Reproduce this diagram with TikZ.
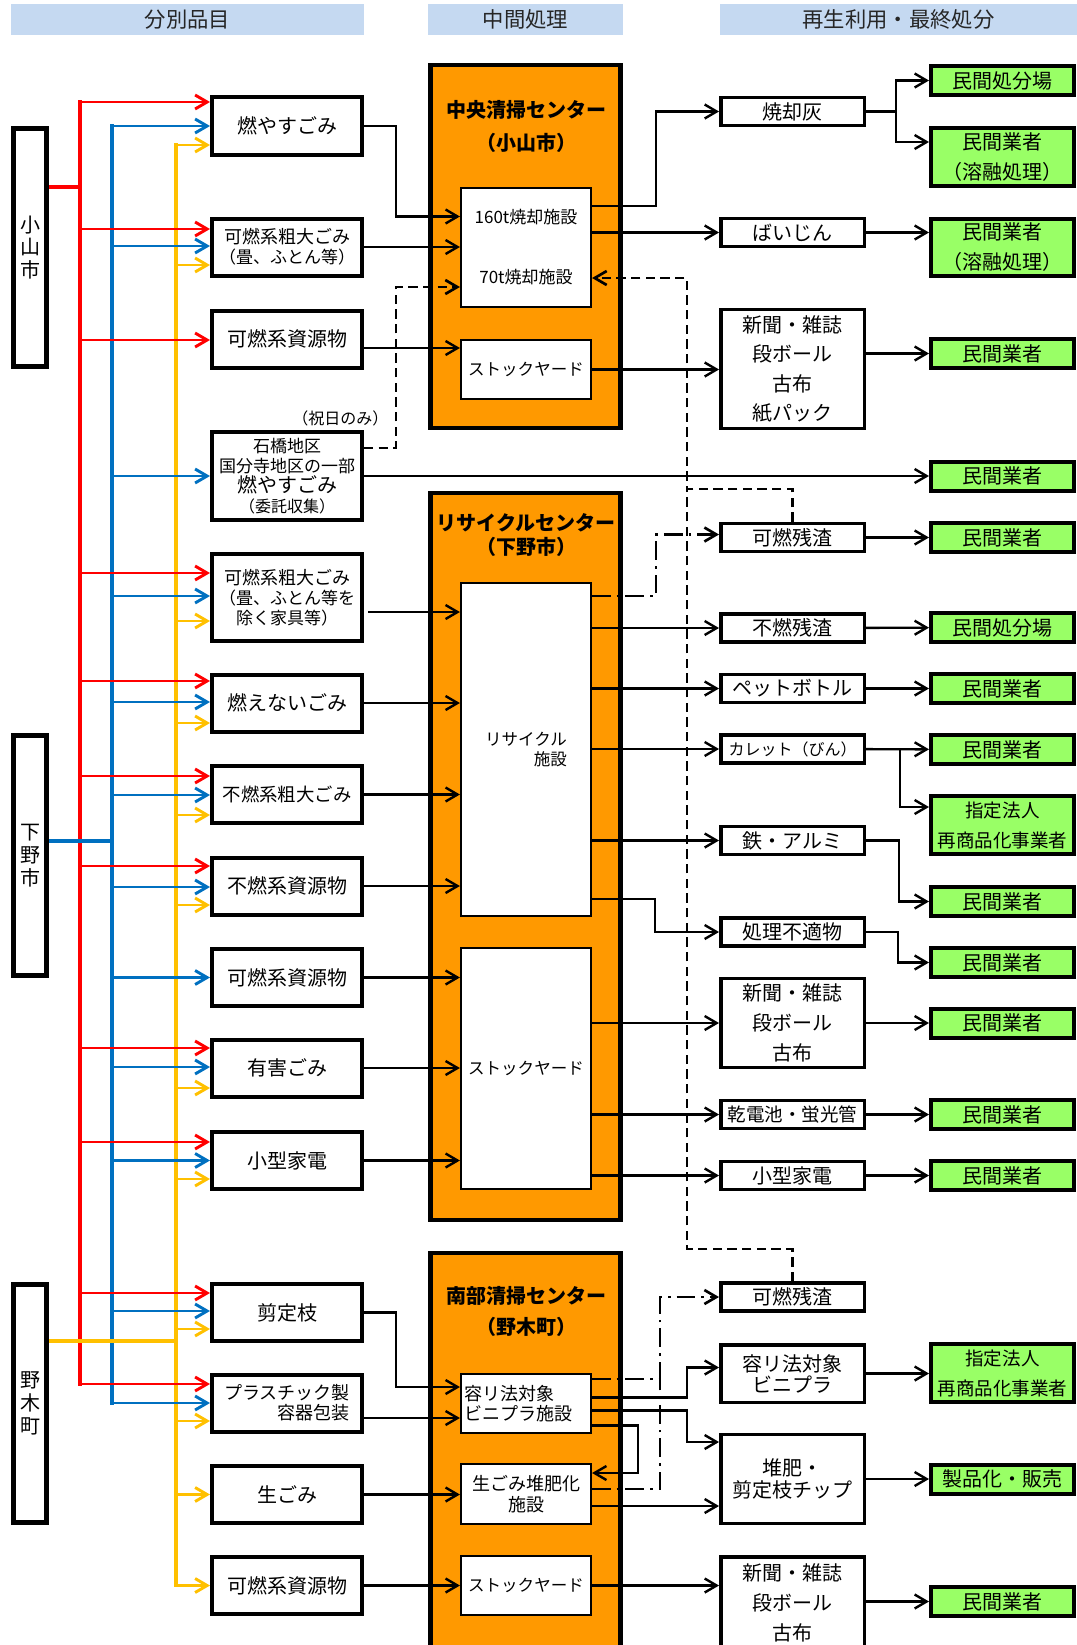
\documentclass[tikz,border=0pt]{standalone}
\usepackage{fontspec}
\setmainfont{Noto Sans CJK JP}
\usetikzlibrary{arrows.meta,calc}
\definecolor{hdrblue}{HTML}{C5D9F1}
\definecolor{plantorange}{HTML}{FF9900}
\definecolor{destgreen}{HTML}{99FF66}
\definecolor{busred}{HTML}{FF0000}
\definecolor{busblue}{HTML}{0070C0}
\definecolor{busyellow}{HTML}{FFC000}
\tikzset{
  hdr/.style     ={fill=hdrblue, minimum height=23.25pt, inner sep=0pt, text=black!85,
                   font=\fontsize{16pt}{18pt}\selectfont},
  city/.style    ={draw, line width=3.5pt, fill=white, minimum width=24.75pt,
                   minimum height=178.5pt, inner sep=0pt, align=center,
                   font=\fontsize{15pt}{17pt}\selectfont},
  item/.style    ={draw, line width=3pt, fill=white, minimum width=112.5pt,
                   minimum height=42.75pt, inner sep=0pt, align=center,
                   font=\fontsize{15pt}{18pt}\selectfont},
  plant/.style   ={draw, line width=3.2pt, fill=plantorange, minimum width=142.5pt, inner sep=0pt},
  ptitle/.style  ={align=center, font=\bfseries\fontsize{15pt}{24.75pt}\selectfont},
  facility/.style={draw, line width=1.6pt, fill=white, minimum width=97.5pt, inner sep=0pt,
                   align=center, font=\fontsize{12.4pt}{15pt}\selectfont},
  product/.style ={draw, line width=2.6pt, fill=white, minimum width=107.6pt,
                   minimum height=21pt, inner sep=0pt, align=center,
                   font=\fontsize{15pt}{22.5pt}\selectfont},
  dest/.style    ={draw, line width=3pt, fill=destgreen, minimum width=107.25pt,
                   minimum height=21.75pt, inner sep=0pt, align=center,
                   font=\fontsize{15pt}{22.5pt}\selectfont},
  tip/.style     ={-{Straight Barb[length=9pt,width=10.5pt]}},
  flow/.style    ={tip, line width=1.8pt},
  dashline/.style={line width=2pt, dash pattern=on 7pt off 4pt},
  dashflow/.style={dashline, tip},
  dotline/.style ={line width=2pt, dash pattern=on 14pt off 4.5pt on 2pt off 4.5pt},
  dotflow/.style ={dotline, tip},
  redline/.style ={busred, line width=2.4pt, line cap=rect},
  blueline/.style={busblue, line width=2.4pt, line cap=rect},
  yelline/.style ={busyellow, line width=2.4pt, line cap=rect},
  redfeed/.style ={busred, line width=2.2pt, tip},
  bluefeed/.style={busblue, line width=2.2pt, tip},
  yelfeed/.style ={busyellow, line width=2.2pt, tip},
}
% feed arrow from a colour bus into an item box
\newcommand{\feed}[3]{\draw[#1feed] let \p1=($(#2.west)+(0,#3)$), \p2=(#1bus) in (\x2,\y1) -- (\p1);}
% horizontal arrow from a point to the x of a node anchor
\newcommand{\hto}[3][flow]{\draw[#1] let \p1=(#2), \p2=(#3) in (\p1) -- (\x2,\y1);}

\begin{document}
\begin{tikzpicture}[x=0.75pt,y=-0.75pt]
  \useasboundingbox (0,0) rectangle (1077,1645);

  % column heads
  \node[hdr, minimum width=264.75pt](hsort) at (187.5,19.5){分別品目};
  \node[hdr, minimum width=146.25pt](hmid) at (525.5,19.5){中間処理};
  \node[hdr, minimum width=267.75pt](hend) at (898.5,19.5){再生利用・最終処分};

  % plants
  \node[plant, minimum height=272.25pt](chuo) at (525.5,246.5){};
  \node[plant, minimum height=545.25pt](recyc) at (525.5,856.5){};
  \node[plant, minimum height=330pt](nanbu) at (525.5,1473){};
  \node[ptitle](chuoT) at (526,126.5){中央清掃センター\\（小山市）};
  \node[ptitle, font=\bfseries\fontsize{15pt}{18pt}\selectfont](recycT) at (526,535){リサイクルセンター\\（下野市）};
  \node[ptitle, font=\bfseries\fontsize{15pt}{23.25pt}\selectfont](nanbuT) at (526,1311.5){南部清掃センター\\（野木町）};

  \node[facility, minimum height=89.25pt](inc) at (526,247.5){};
  \node[font=\fontsize{12.75pt}{15pt}\selectfont](t160) at (526,217){160t焼却施設};
  \node[font=\fontsize{12.75pt}{15pt}\selectfont](t70) at (526,277){70t焼却施設};
  \node[facility, minimum height=44.25pt](stock1) at (526,369.5){ストックヤード};
  \node[facility, minimum height=249.75pt, align=right](recfac) at (526,749.5){リサイクル\\施設};
  \node[facility, minimum height=180.75pt](stock2) at (526,1068.5){ストックヤード};
  \node[facility, minimum height=44.25pt, align=left, text width=92pt,
        font=\fontsize{13.5pt}{15pt}\selectfont](vinyl) at (526,1403.5){容リ法対象\\ビニプラ施設};
  \node[facility, minimum height=45pt, font=\fontsize{13.5pt}{15.75pt}\selectfont](compost) at (526,1494){生ごみ堆肥化\\施設};
  \node[facility, minimum height=44.25pt](stock3) at (526,1585.5){ストックヤード};

  % municipalities
  \node[city](oyama) at (30,247.5){小\\山\\市};
  \node[city, minimum height=180pt](shimo) at (30,855.5){下\\野\\市};
  \node[city](nogi) at (30,1403.5){野\\木\\町};

  % sorted items
  \node[item](moyasu) at (287,126){燃やすごみ};
  \node[item, font=\fontsize{13.5pt}{15pt}\selectfont](kanenS) at (287,247){可燃系粗大ごみ\\{\fontsize{12.75pt}{15pt}\selectfont（畳、ふとん等）}};
  \node[item](kanenR1) at (287,339){可燃系資源物};
  \node[item, minimum height=66pt, font=\fontsize{12.75pt}{15pt}\selectfont](ishibashi) at (287,476)
        {石橋地区\\国分寺地区の一部\\{\fontsize{15pt}{16.5pt}\selectfont 燃やすごみ}\\{\fontsize{12pt}{16.5pt}\selectfont（委託収集）}};
  \node[item, minimum height=65.25pt, font=\fontsize{13.5pt}{15pt}\selectfont](kanenS2) at (287,597.5)
        {可燃系粗大ごみ\\{\fontsize{12.75pt}{15pt}\selectfont（畳、ふとん等を}\\{\fontsize{12.75pt}{15pt}\selectfont 除く家具等）}};
  \node[item](moenai) at (287,703){燃えないごみ};
  \node[item, font=\fontsize{13.8pt}{15pt}\selectfont](funenS) at (287,794.5){不燃系粗大ごみ};
  \node[item](funenR) at (287,886){不燃系資源物};
  \node[item](kanenR2) at (287,977.5){可燃系資源物};
  \node[item](yugai) at (287,1068){有害ごみ};
  \node[item](kogata) at (287,1160.5){小型家電};
  \node[item](sentei) at (287,1312.5){剪定枝};
  \node[item, align=right, font=\fontsize{13.5pt}{15pt}\selectfont](plastic) at (287,1403){プラスチック製\\容器包装};
  \node[item](nama) at (287,1494.5){生ごみ};
  \node[item](kanenR3) at (287,1585.5){可燃系資源物};
  \node[font=\fontsize{12pt}{13pt}\selectfont, anchor=east](holiday) at (393,418){（祝日のみ）};

  % products
  \node[product](shokyaku) at (792.5,111.5){焼却灰};
  \node[product](baijin) at (792.5,232.5){ばいじん};
  \node[product, minimum height=88.9pt, font=\fontsize{15pt}{22pt}\selectfont](paper1) at (792.5,369){新聞・雑誌\\段ボール\\古布\\紙パック};
  \node[product](kanenZ1) at (792.5,537.5){可燃残渣};
  \node[product](funenZ) at (792.5,628){不燃残渣};
  \node[product](pet) at (792.5,688.5){ペットボトル};
  \node[product, font=\fontsize{12pt}{15pt}\selectfont](cullet) at (792.5,749){カレット（びん）};
  \node[product](tetsu) at (792.5,840.5){鉄・アルミ};
  \node[product](futeki) at (792.5,932){処理不適物};
  \node[product, minimum height=66.4pt](paper2) at (792.5,1023){新聞・雑誌\\段ボール\\古布};
  \node[product, font=\fontsize{13.9pt}{15pt}\selectfont](kanden) at (792.5,1114.5){乾電池・蛍光管};
  \node[product](kogata2) at (792.5,1175.5){小型家電};
  \node[product](kanenZ2) at (792.5,1297){可燃残渣};
  \node[product, minimum height=43.1pt, font=\fontsize{15pt}{15.75pt}\selectfont](yori) at (792.5,1373.5){容リ法対象\\ビニプラ};
  \node[product, minimum height=66.4pt, font=\fontsize{15pt}{16.5pt}\selectfont](taihi) at (792.5,1479){堆肥・\\剪定枝チップ};
  \node[product, minimum height=68.6pt](paper3) at (792.5,1602.5){新聞・雑誌\\段ボール\\古布};

  % final destinations
  \node[dest](ashDisp) at (1002.5,80.5){民間処分場};
  \node[dest, minimum height=43.1pt](ashMelt) at (1002.5,157){民間業者\\（溶融処理）};
  \node[dest, minimum height=43.1pt](dustMelt) at (1002.5,247.5){民間業者\\（溶融処理）};
  \node[dest](paperCo) at (1002.5,353.5){民間業者};
  \node[dest](ishiCo) at (1002.5,476){民間業者};
  \node[dest](kzCo) at (1002.5,537.5){民間業者};
  \node[dest](fzDisp) at (1002.5,627.5){民間処分場};
  \node[dest](petCo) at (1002.5,688.5){民間業者};
  \node[dest](culCo) at (1002.5,749.5){民間業者};
  \node[dest, minimum height=43.1pt, font=\fontsize{13.9pt}{22.5pt}\selectfont](culDes) at (1002.5,825){指定法人\\再商品化事業者};
  \node[dest](metCo) at (1002.5,901.5){民間業者};
  \node[dest](unfitCo) at (1002.5,962.5){民間業者};
  \node[dest](paper2Co) at (1002.5,1023){民間業者};
  \node[dest](batCo) at (1002.5,1114.5){民間業者};
  \node[dest](smallCo) at (1002.5,1175.5){民間業者};
  \node[dest, minimum height=43.1pt, font=\fontsize{13.9pt}{22.5pt}\selectfont](vinDes) at (1002.5,1373){指定法人\\再商品化事業者};
  \node[dest](compSale) at (1002.5,1479){製品化・販売};
  \node[dest](paper3Co) at (1002.5,1601.5){民間業者};

  % collection buses
  \coordinate (redbus) at (80,102);   \coordinate (redend) at (80,1384);
  \coordinate (bluebus) at (112,126); \coordinate (blueend) at (112,1403);
  \coordinate (yelbus) at (176,145);  \coordinate (yelend) at (176,1585.5);
  \coordinate (redjoin) at (80,187);  \coordinate (bluejoin) at (112,841);
  \coordinate (yeljoin) at (176,1341);
  \draw[redline](redbus)--(redend);
  \draw[blueline](bluebus)--(blueend);
  \draw[yelline](yelbus)--(yelend);

  \feed{red}{moyasu}{-24}  \feed{blue}{moyasu}{0}    \feed{yel}{moyasu}{19}
  \feed{red}{kanenS}{-18}  \feed{blue}{kanenS}{-1}   \feed{yel}{kanenS}{18}
  \feed{red}{kanenR1}{1}
  \feed{blue}{ishibashi}{0}
  \feed{red}{kanenS2}{-24.5} \feed{blue}{kanenS2}{-1.5} \feed{yel}{kanenS2}{23.5}
  \feed{red}{moenai}{-22}  \feed{blue}{moenai}{-1}   \feed{yel}{moenai}{20}
  \feed{red}{funenS}{-18.5} \feed{blue}{funenS}{0.5} \feed{yel}{funenS}{20.5}
  \feed{red}{funenR}{-20}  \feed{blue}{funenR}{1}    \feed{yel}{funenR}{19}
  \feed{blue}{kanenR2}{0}
  \feed{red}{yugai}{-20}   \feed{blue}{yugai}{-1}    \feed{yel}{yugai}{20}
  \feed{red}{kogata}{-18.5} \feed{blue}{kogata}{0}   \feed{yel}{kogata}{18.5}
  \feed{red}{sentei}{-19.5} \feed{blue}{sentei}{-1.5} \feed{yel}{sentei}{16.5}
  \feed{red}{plastic}{-19} \feed{blue}{plastic}{0}   \feed{yel}{plastic}{18}
  \feed{yel}{nama}{0}
  \feed{yel}{kanenR3}{0}

  \draw[redline, line width=3pt, line cap=butt](oyama.east |- redjoin)--(redjoin);
  \draw[blueline, line width=3pt, line cap=butt](shimo.east |- bluejoin)--(bluejoin);
  \draw[yelline, line width=3pt, line cap=butt](nogi.east |- yeljoin)--(yeljoin);

  % into the central plant
  \draw[flow](moyasu.east) -| ($(inc.west)+(-64,-31)$) -- ($(inc.west)+(0,-31)$);
  \draw[flow](kanenS.east) -- (kanenS.east -| inc.west);
  \draw[dashflow]($(ishibashi.east)+(0,-28)$) -| ($(inc.west)+(-64,39.5)$) -- ($(inc.west)+(0,39.5)$);
  \hto{$(kanenR1.east)+(0,9)$}{stock1.west}

  % out of the central plant
  \draw[flow]($(inc.east)+(0,-41.5)$) -| ($(shokyaku.west)+(-63,0)$) -- (shokyaku.west);
  \draw[flow](baijin.west -| inc.east) -- (baijin.west);
  \draw[flow](stock1.east) -- (stock1.east -| paper1.west);
  \draw[flow](ishibashi.east) -- (ishibashi.east -| ishiCo.west);
  \draw[flow](shokyaku.east) -| ($(ashDisp.west)+(-33,0)$) -- (ashDisp.west);
  \draw[flow](shokyaku.east) -| ($(ashMelt.west)+(-33,-15)$) -- ($(ashMelt.west)+(0,-15)$);
  \hto{baijin.east}{dustMelt.west}
  \draw[flow](paperCo.west -| paper1.east) -- (paperCo.west);

  % residues back to the incinerator
  \coordinate (dashtop) at (687,278); \coordinate (dashmid) at (687,489);
  \coordinate (dashbot) at (687,1249);
  \draw[dashflow](kanenZ1.north) |- (dashmid) -- (dashtop) -- (inc.east |- dashtop);
  \draw[dashline](kanenZ2.north) |- (dashbot) -- (dashmid);

  % recycling centre
  \hto{$(kanenS2.east)+(4,14.5)$}{recfac.west}
  \draw[flow](moenai.east) -- (moenai.east -| recfac.west);
  \draw[flow](funenS.east) -- (funenS.east -| recfac.west);
  \draw[flow](funenR.east) -- (funenR.east -| recfac.west);
  \draw[flow](kanenR2.east) -- (kanenR2.east -| stock2.west);
  \draw[flow](yugai.east) -- (yugai.east -| stock2.west);
  \draw[flow](kogata.east) -- (kogata.east -| stock2.west);

  \draw[dotflow]($(recfac.north east)+(0,14)$) -| ($(kanenZ1.west)+(-63,-3)$) -- ($(kanenZ1.west)+(0,-3)$);
  \draw[flow](funenZ.west -| recfac.east) -- (funenZ.west);
  \draw[flow](pet.west -| recfac.east) -- (pet.west);
  \draw[flow](cullet.west -| recfac.east) -- (cullet.west);
  \draw[flow](tetsu.west -| recfac.east) -- (tetsu.west);
  \draw[flow]($(recfac.south east)+(0,-18)$) -| ($(futeki.west)+(-64,0)$) -- (futeki.west);
  \draw[flow](paper2.west -| stock2.east) -- (paper2.west);
  \draw[flow](kanden.west -| stock2.east) -- (kanden.west);
  \draw[flow](kogata2.west -| stock2.east) -- (kogata2.west);

  \draw[flow](kanenZ1) -- (kzCo); \draw[flow](funenZ) -- (fzDisp);
  \draw[flow](pet) -- (petCo);    \draw[flow](cullet) -- (culCo);
  \draw[flow](cullet.east) -| ($(culDes.west)+(-29,-18)$) -- ($(culDes.west)+(0,-18)$);
  \draw[flow](tetsu.east) -| ($(metCo.west)+(-30,0)$) -- (metCo.west);
  \draw[flow](futeki.east) -| ($(unfitCo.west)+(-31,0)$) -- (unfitCo.west);
  \draw[flow](paper2) -- (paper2Co); \draw[flow](kanden) -- (batCo);
  \draw[flow](kogata2) -- (smallCo);

  % southern plant
  \draw[flow](sentei.east) -| ($(vinyl.west)+(-64,-16.5)$) -- ($(vinyl.west)+(0,-16.5)$);
  \hto{$(plastic.east)+(0,15)$}{vinyl.west}
  \draw[flow](nama.east) -- (nama.east -| compost.west);
  \draw[flow](kanenR3.east) -- (kanenR3.east -| stock3.west);

  \draw[dotflow]($(vinyl.east)+(0,-24.5)$) -| ($(kanenZ2.west)+(-59,0)$) -- (kanenZ2.west);
  \draw[dotline]($(compost.east)+(0,-5)$) -| ($(vinyl.east)+(68,-24.5)$);
  \draw[flow]($(vinyl.east)+(0,-6)$) -| ($(yori.west)+(-32,-6)$) -- ($(yori.west)+(0,-6)$);
  \draw[flow]($(vinyl.east)+(0,7)$) -| ($(taihi.west)+(-32,-37)$) -- ($(taihi.west)+(0,-37)$);
  \draw[flow]($(vinyl.east)+(0,22)$) -| ($(compost.east)+(46,-21)$) -- ($(compost.east)+(0,-21)$);
  \hto{$(compost.east)+(0,12)$}{taihi.west}
  \draw[flow](stock3.east) -- (stock3.east -| paper3.west);
  \draw[flow](yori.east) -- (yori.east -| vinDes.west);
  \draw[flow](taihi) -- (compSale);
  \draw[flow](paper3Co.west -| paper3.east) -- (paper3Co.west);
\end{tikzpicture}
\end{document}
